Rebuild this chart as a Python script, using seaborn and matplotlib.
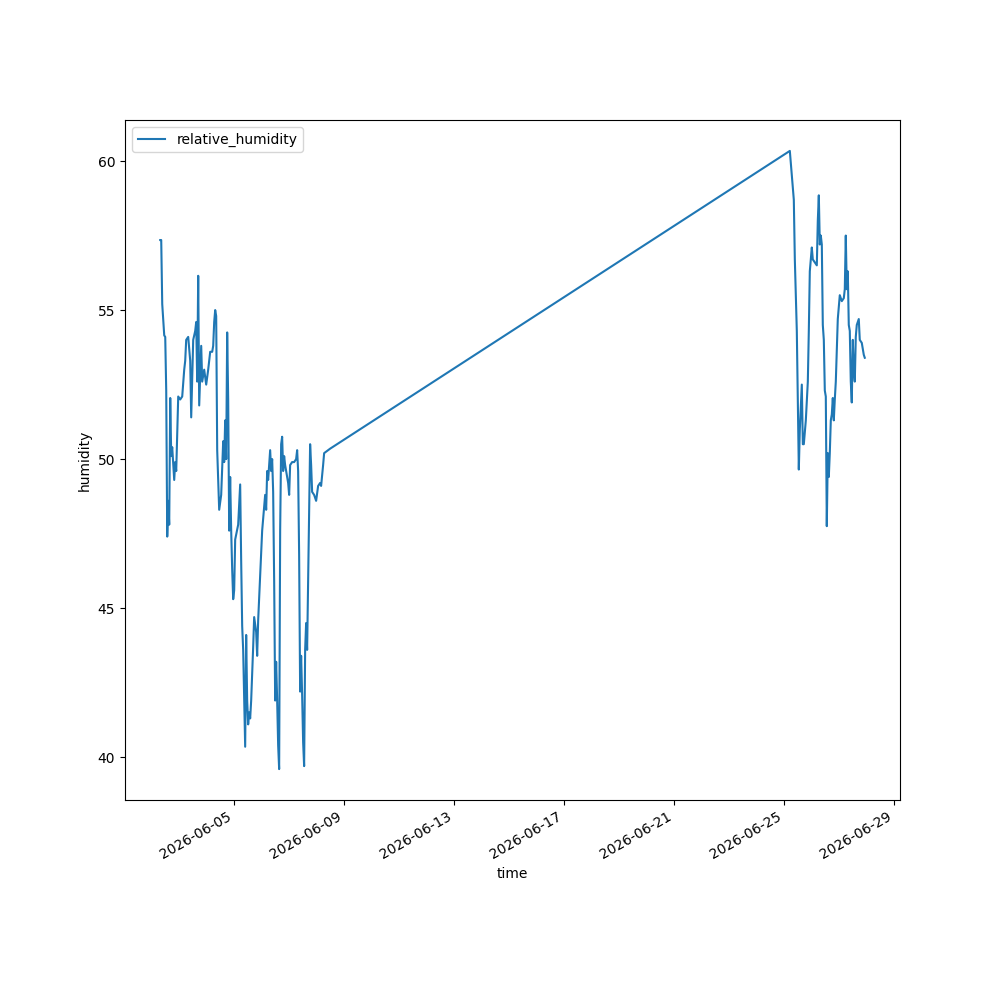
import pandas as pd
import matplotlib
matplotlib.use("Agg")
import matplotlib.pyplot as plt
import seaborn as sns

# Readings (time, relative humidity in %)
times = [
    "2026-06-02 07:25", "2026-06-02 08:17", "2026-06-02 09:10", "2026-06-02 10:02",
    "2026-06-02 10:55", "2026-06-02 11:47", "2026-06-02 12:39", "2026-06-02 13:32",
    "2026-06-02 14:24", "2026-06-02 15:16", "2026-06-02 16:09", "2026-06-02 17:01",
    "2026-06-02 17:53", "2026-06-02 19:38", "2026-06-02 20:30", "2026-06-02 21:23",
    "2026-06-02 23:08", "2026-06-03 00:52", "2026-06-03 02:37", "2026-06-03 04:22",
    "2026-06-03 05:14", "2026-06-03 06:06", "2026-06-03 07:51", "2026-06-03 09:36",
    "2026-06-03 10:28", "2026-06-03 12:13", "2026-06-03 13:58", "2026-06-03 14:50",
    "2026-06-03 15:42", "2026-06-03 16:35", "2026-06-03 17:27", "2026-06-03 19:12",
    "2026-06-03 20:04", "2026-06-03 21:49", "2026-06-03 23:34", "2026-06-04 01:18",
    "2026-06-04 03:03", "2026-06-04 04:48", "2026-06-04 05:40", "2026-06-04 06:33",
    "2026-06-04 07:25", "2026-06-04 08:17", "2026-06-04 09:10", "2026-06-04 10:54",
    "2026-06-04 12:39", "2026-06-04 14:24", "2026-06-04 15:16", "2026-06-04 16:08",
    "2026-06-04 17:01", "2026-06-04 17:53", "2026-06-04 18:46", "2026-06-04 19:38",
    "2026-06-04 20:30", "2026-06-04 21:23", "2026-06-04 22:15", "2026-06-04 23:08",
    "2026-06-05 00:00", "2026-06-05 00:52", "2026-06-05 03:29", "2026-06-05 05:14",
    "2026-06-05 06:06", "2026-06-05 06:59", "2026-06-05 07:51", "2026-06-05 08:43",
    "2026-06-05 09:36", "2026-06-05 10:28", "2026-06-05 11:20", "2026-06-05 12:13",
    "2026-06-05 13:05", "2026-06-05 13:58", "2026-06-05 14:50", "2026-06-05 16:35",
    "2026-06-05 17:27", "2026-06-05 19:12", "2026-06-05 20:04", "2026-06-05 20:57",
    "2026-06-05 22:41", "2026-06-06 00:26", "2026-06-06 02:11", "2026-06-06 03:03",
    "2026-06-06 03:56", "2026-06-06 04:48", "2026-06-06 05:40", "2026-06-06 07:25",
    "2026-06-06 08:17", "2026-06-06 09:10", "2026-06-06 10:02", "2026-06-06 10:55",
    "2026-06-06 11:47", "2026-06-06 12:39", "2026-06-06 13:32", "2026-06-06 14:24",
    "2026-06-06 15:16", "2026-06-06 16:09", "2026-06-06 17:01", "2026-06-06 17:53",
    "2026-06-06 18:46", "2026-06-06 19:38", "2026-06-06 20:30", "2026-06-06 21:23",
    "2026-06-06 23:08", "2026-06-07 00:00", "2026-06-07 00:52", "2026-06-07 02:37",
    "2026-06-07 04:22", "2026-06-07 06:06", "2026-06-07 06:59", "2026-06-07 07:51",
    "2026-06-07 08:43", "2026-06-07 09:36", "2026-06-07 10:28", "2026-06-07 11:20",
    "2026-06-07 12:13", "2026-06-07 13:05", "2026-06-07 13:58", "2026-06-07 14:50",
    "2026-06-07 15:42", "2026-06-07 16:35", "2026-06-07 17:27", "2026-06-07 18:19",
    "2026-06-07 19:12", "2026-06-07 20:04", "2026-06-07 21:49", "2026-06-07 23:34",
    "2026-06-08 01:18", "2026-06-08 03:03", "2026-06-08 03:55", "2026-06-08 05:40",
    "2026-06-08 06:33", "2026-06-08 11:47",
    # sensor back online
    "2026-06-25 05:14", "2026-06-25 06:59", "2026-06-25 08:43", "2026-06-25 09:36",
    "2026-06-25 11:20", "2026-06-25 12:13", "2026-06-25 13:05", "2026-06-25 13:58",
    "2026-06-25 15:42", "2026-06-25 16:35", "2026-06-25 17:27", "2026-06-25 19:12",
    "2026-06-25 20:57", "2026-06-25 21:49", "2026-06-25 22:41", "2026-06-26 00:26",
    "2026-06-26 01:18", "2026-06-26 03:03", "2026-06-26 04:48", "2026-06-26 05:40",
    "2026-06-26 06:33", "2026-06-26 07:25", "2026-06-26 08:17", "2026-06-26 09:10",
    "2026-06-26 10:02", "2026-06-26 10:55", "2026-06-26 11:47", "2026-06-26 12:39",
    "2026-06-26 13:31", "2026-06-26 14:24", "2026-06-26 15:16", "2026-06-26 16:08",
    "2026-06-26 17:01", "2026-06-26 17:53", "2026-06-26 18:46", "2026-06-26 19:38",
    "2026-06-26 20:30", "2026-06-26 21:23", "2026-06-26 23:07", "2026-06-27 00:52",
    "2026-06-27 02:37", "2026-06-27 04:22", "2026-06-27 05:14", "2026-06-27 06:06",
    "2026-06-27 06:59", "2026-06-27 07:51", "2026-06-27 08:43", "2026-06-27 09:36",
    "2026-06-27 10:28", "2026-06-27 11:20", "2026-06-27 12:13", "2026-06-27 13:05",
    "2026-06-27 13:58", "2026-06-27 14:50", "2026-06-27 15:42", "2026-06-27 17:27",
    "2026-06-27 18:19", "2026-06-27 20:04", "2026-06-27 21:49", "2026-06-27 22:41",
]

relative_humidity = [
    57.35, 57.35, 55.2, 54.7, 54.15, 54.1, 52.3, 47.4,
    48.6, 47.8, 52.05, 50.1, 50.4, 49.3, 49.9, 49.6,
    52.1, 52.0, 52.1, 53.0, 53.3, 54.0, 54.1, 53.3,
    51.4, 54.0, 54.3, 54.6, 52.6, 56.15, 51.8, 53.8,
    52.6, 53.0, 52.5, 53.0, 53.6, 53.6, 53.8, 54.6,
    55.0, 54.8, 50.3, 48.3, 48.8, 50.6, 49.9, 51.3,
    50.0, 54.25, 52.0, 47.6, 49.4, 47.6, 46.3, 45.3,
    45.6, 47.3, 47.8, 49.15, 46.6, 44.4, 43.6, 41.9,
    40.35, 44.1, 41.9, 41.1, 41.5, 41.3, 41.9, 43.7,
    44.7, 44.2, 43.4, 44.6, 46.1, 47.6, 48.4, 48.8,
    48.3, 49.6, 49.3, 50.3, 49.6, 50.0, 48.9, 45.9,
    41.9, 43.2, 41.9, 40.4, 39.6, 47.6, 50.5, 50.75,
    49.6, 50.1, 49.8, 49.6, 49.2, 48.8, 49.8, 49.9,
    49.9, 50.0, 50.3, 49.6, 46.8, 42.2, 43.4, 42.1,
    40.5, 39.7, 43.6, 44.5, 43.6, 45.9, 48.3, 50.5,
    49.8, 48.9, 48.8, 48.6, 49.1, 49.2, 49.1, 49.8,
    50.2, 50.35,
    60.34, 59.5, 58.7, 56.7, 54.3, 52.0, 49.65, 51.0,
    52.5, 50.5, 50.5, 51.3, 52.6, 54.3, 56.3, 57.1,
    56.7, 56.6, 56.5, 58.0, 58.85, 57.2, 57.5, 57.2,
    54.5, 54.0, 52.3, 52.1, 47.75, 50.2, 49.4, 50.2,
    51.3, 51.5, 52.05, 51.3, 52.0, 52.6, 54.7, 55.5,
    55.3, 55.4, 55.7, 57.5, 55.7, 56.3, 54.5, 54.3,
    52.6, 51.9, 54.0, 53.0, 52.6, 54.1, 54.5, 54.7,
    54.0, 53.9, 53.5, 53.4,
]

df = pd.DataFrame({"time": pd.to_datetime(times), "relative_humidity": relative_humidity})

fig, ax = plt.subplots(figsize=(10, 10), dpi=100)
sns.lineplot(data=df, x="time", y="relative_humidity", ax=ax,
             label="relative_humidity", color="#1f77b4", linewidth=1.5)

ax.set_xlabel("time")
ax.set_ylabel("humidity")
ax.legend(loc="upper left")
fig.autofmt_xdate()

fig.savefig("out.png")
